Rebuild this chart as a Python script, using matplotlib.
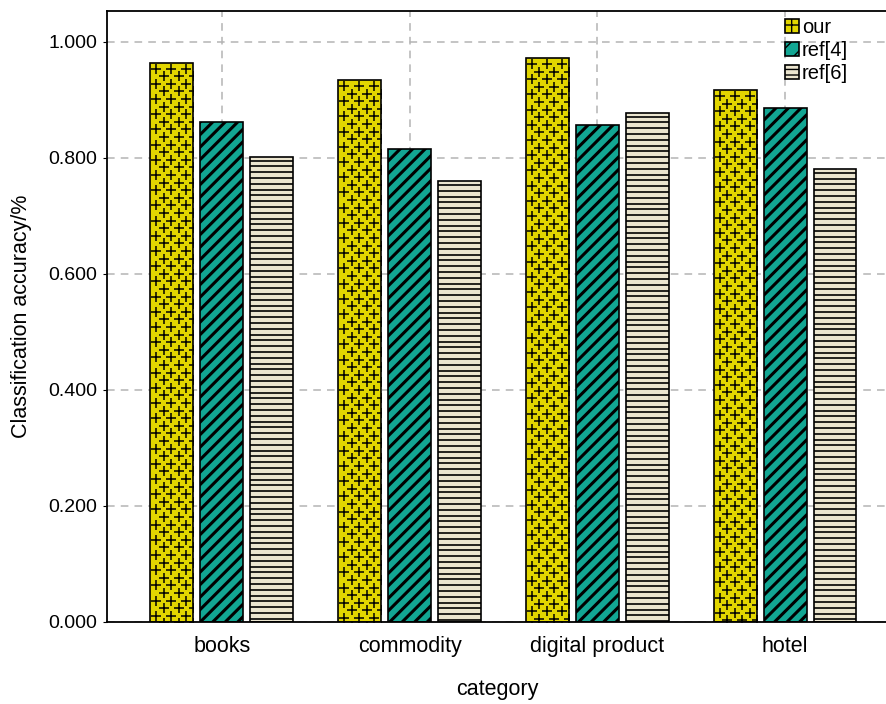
import matplotlib
matplotlib.use("Agg")
import matplotlib.pyplot as plt
from matplotlib.patches import Patch
from matplotlib.lines import Line2D
from matplotlib.transforms import IdentityTransform
import numpy as np

categories = ["books", "commodity", "digital product", "hotel"]
series_names = ["our", "ref[4]", "ref[6]"]
our = [0.964, 0.934, 0.972, 0.917]
ref4 = [0.862, 0.816, 0.857, 0.886]
ref6 = [0.802, 0.760, 0.878, 0.781]
yticks = [0.0, 0.2, 0.4, 0.6, 0.8, 1.0]

colors = ["#E2D600", "#12A693", "#EBE5CF"]
patterns = ["plus", "diag", "horiz"]
legend_hatch = ["+", "//", "---"]

plt.rcParams["font.family"] = ["Liberation Sans", "DejaVu Sans"]
plt.rcParams["hatch.linewidth"] = 1.0

W, H = 887, 704
fig = plt.figure(figsize=(W / 100, H / 100), dpi=100)
ax = fig.add_axes([107 / W, 82 / H, 1 - 107 / W, (622 - 11) / H])

x = np.arange(len(categories))
step = 0.266
width = 0.229
ax.set_xlim(-0.612, 3.543)
ax.set_ylim(0, 1.053)


def add_clipped(ln, rect):
    ax.add_line(ln)
    # clip after adding, otherwise the axes patch replaces it
    ln.set_clip_path(rect)


def add_pattern(rect, kind):
    # draw the fill pattern in pixel coords, clipped to the bar
    (x0, y0), (x1, y1) = ax.transData.transform(
        [(rect.get_x(), rect.get_y()), (rect.get_x() + rect.get_width(), rect.get_y() + rect.get_height())])
    if kind == "plus":
        xs, ys = [], []
        row = 0
        yy = y1 - 6
        while yy > y0 - 8:
            off = 0 if row % 2 == 0 else 7.5
            xx = x0 + 6 + off
            while xx < x1 + 8:
                xs.append(xx)
                ys.append(yy)
                xx += 15
            yy -= 7.6
            row += 1
        ln = Line2D(xs, ys, linestyle="none", marker="+", markersize=7,
                    markeredgewidth=1.1, color="black", transform=IdentityTransform(), zorder=2.5)
        add_clipped(ln, rect)
    elif kind == "diag":
        h = y1 - y0
        s = x0 - h
        while s < x1:
            ln = Line2D([s, s + h + 20], [y0, y1 + 20], color="black", linewidth=2.2,
                        transform=IdentityTransform(), zorder=2.5, solid_capstyle="butt")
            add_clipped(ln, rect)
            s += 12.5
    else:
        yy = y1 - 4
        while yy > y0:
            ln = Line2D([x0 - 2, x1 + 2], [yy, yy], color="black", linewidth=1.2,
                        transform=IdentityTransform(), zorder=2.5)
            add_clipped(ln, rect)
            yy -= 5.8


for i, vals in enumerate([our, ref4, ref6]):
    pos = x + (i - 1) * step
    bars = ax.bar(pos, vals, width, color=colors[i], edgecolor="none", zorder=2)
    for b in bars:
        add_pattern(b, patterns[i])
    ax.bar(pos, vals, width, fill=False, edgecolor="black", linewidth=1.2, zorder=3)

ax.set_xticks(x)
ax.set_xticklabels(categories, fontsize=15.5)
ax.set_yticks(yticks)
ax.set_yticklabels([f"{v:.3f}" for v in yticks], fontsize=14)
ax.tick_params(axis="x", length=0, pad=10)
ax.tick_params(axis="y", length=3, pad=4)

ax.grid(True, color="#B4B4B4", linestyle=(0, (5, 4)), linewidth=1.1, zorder=0)
ax.set_axisbelow(True)
for side in ["left", "bottom", "top", "right"]:
    ax.spines[side].set_linewidth(1.3)

ax.set_xlabel("category", fontsize=15.5, labelpad=16)
ax.set_ylabel("Classification accuracy/%", fontsize=15.5, labelpad=12)

handles = [Patch(facecolor=colors[i], edgecolor="black", hatch=legend_hatch[i], linewidth=1.2)
           for i in range(3)]
ax.legend(handles, series_names, loc="upper left", bbox_to_anchor=(785 / W, 1 - 18 / H),
          bbox_transform=fig.transFigure, frameon=False, fontsize=14.5,
          handlelength=0.7, handleheight=0.7, handletextpad=0.15, labelspacing=0.2,
          borderpad=0, borderaxespad=0)

fig.savefig("out.png", dpi=100)
plt.close()
